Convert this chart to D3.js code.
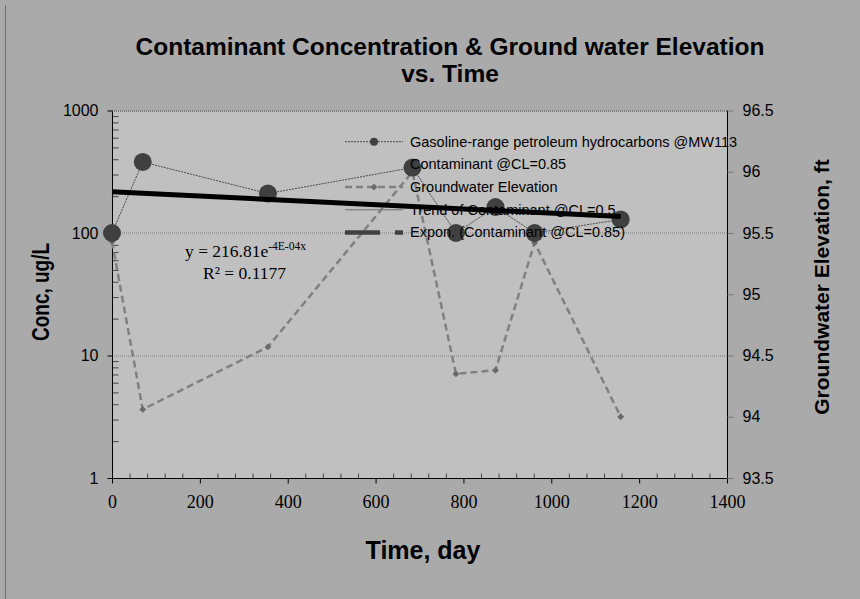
<!DOCTYPE html>
<html>
<head>
<meta charset="utf-8">
<script src="https://cdn.jsdelivr.net/npm/d3@7"></script>
<style>
  body { margin: 0; background: #aaaaaa; }
  text { font-family: "Liberation Sans", Arial, sans-serif; }
  .serif { font-family: "Liberation Serif", "Times New Roman", serif; }
</style>
</head>
<body>
<script>
// chart values
const days = [0, 70, 355, 684, 783, 873, 962, 1158];
const conc = [100, 380, 210, 342, 100, 163, 100, 129];
const elevation = [95.43, 94.06, 94.57, 96.0, 94.35, 94.38, 95.42, 94.0];
const trendDays = [0, 1158];
const trendConc = [216.81, 136.3];

const xTicks = [0, 200, 400, 600, 800, 1000, 1200, 1400];
const yTicks = [1, 10, 100, 1000];
const y2Ticks = [93.5, 94, 94.5, 95, 95.5, 96, 96.5];

const legendLabels = [
  "Gasoline-range petroleum hydrocarbons @MW113",
  "Contaminant @CL=0.85",
  "Groundwater Elevation",
  "Trend of Contaminant @CL=0.5",
  "Expon. (Contaminant @CL=0.85)"
];

const W = 860, H = 599;
const margin = { left: 112, top: 110.5, right: 133, bottom: 121 };
const width = W - margin.left - margin.right;
const height = H - margin.top - margin.bottom;

const root = d3.select("body")
  .append("svg")
  .attr("width", W)
  .attr("height", H);

root.append("rect")
  .attr("width", W).attr("height", H)
  .attr("fill", "#aaaaaa");

// thin frame line on the left side
root.append("line")
  .attr("x1", 5.5).attr("x2", 5.5)
  .attr("y1", 5).attr("y2", H)
  .attr("stroke", "#6f6f6f")
  .attr("stroke-width", 1);

const svg = root.append("g")
  .attr("transform", `translate(${margin.left}, ${margin.top})`);

let xScale = d3.scaleLinear([0, 1400], [0, width]);
let yScale = d3.scaleLog([1, 1000], [height, 0]);
let y2Scale = d3.scaleLinear([93.5, 96.5], [height, 0]);

// plot area
svg.append("rect")
  .attr("width", width)
  .attr("height", height)
  .attr("fill", "#c0c0c0");

// dotted grid lines at each decade
svg.selectAll(".grid")
  .data(yTicks.slice(1))
  .enter()
  .append("line")
  .attr("class", "grid")
  .attr("x1", 0).attr("x2", width)
  .attr("y1", d => Math.round(yScale(d)) + 0.5)
  .attr("y2", d => Math.round(yScale(d)) + 0.5)
  .attr("stroke", "#7a7a7a")
  .attr("stroke-width", 1)
  .style("stroke-dasharray", "1, 1");

// left axis: majors outside, minors inside
let minorY = [];
for (let k = 1; k < 1000; k *= 10) {
  for (let m = 2; m <= 9; m++) minorY.push(k * m);
}
svg.append("g")
  .attr("transform", "translate(0.5,0)")
  .call(d3.axisLeft(yScale).tickValues(minorY).tickSize(-6).tickFormat(""))
  .call(g => g.select(".domain").remove())
  .selectAll("line").attr("stroke", "#444");

svg.append("g")
  .attr("transform", "translate(0.5,0)")
  .call(d3.axisLeft(yScale).tickValues(yTicks).tickSize(5).tickPadding(9).tickFormat(d3.format("d")))
  .call(g => g.select(".domain").attr("stroke", "#000").attr("d", `M0,${height}V0`))
  .call(g => g.selectAll("text").style("font-size", "16px").attr("fill", "#000")
    .style("font-family", "Liberation Sans, Arial, sans-serif"));

// bottom axis
let minorX = d3.range(0, 1401, 40).filter(d => d % 200 !== 0);
svg.append("g")
  .attr("transform", `translate(0,${height + 0.5})`)
  .call(d3.axisBottom(xScale).tickValues(minorX).tickSize(-5).tickFormat(""))
  .call(g => g.select(".domain").remove())
  .selectAll("line").attr("stroke", "#444");

svg.append("g")
  .attr("transform", `translate(0,${height + 0.5})`)
  .call(d3.axisBottom(xScale).tickValues(xTicks).tickSize(5).tickPadding(12).tickFormat(d3.format("d")))
  .call(g => g.select(".domain").attr("stroke", "#000").attr("d", `M0,0H${width}`))
  .call(g => g.selectAll("text").attr("class", "serif").style("font-size", "18px").attr("fill", "#000")
    .style("font-family", "Liberation Serif, Times New Roman, serif"));

// right axis
svg.append("g")
  .attr("transform", `translate(${width + 0.5},0)`)
  .call(d3.axisRight(y2Scale).tickValues(y2Ticks).tickSize(6).tickPadding(9).tickFormat(d => d))
  .call(g => g.select(".domain").attr("stroke", "#000").attr("d", `M0,0V${height}`))
  .call(g => g.selectAll(".tick line").attr("stroke", "#777"))
  .call(g => g.selectAll("text").style("font-size", "16px").attr("fill", "#000")
    .style("font-family", "Liberation Sans, Arial, sans-serif"));

// dotted top border
svg.append("line")
  .attr("x1", 0).attr("x2", width)
  .attr("y1", 0.5).attr("y2", 0.5)
  .attr("stroke", "#555")
  .style("stroke-dasharray", "1, 1");

// groundwater elevation (right axis)
let elevLine = d3.line()
  .x((d, i) => xScale(days[i]))
  .y(d => y2Scale(d));

svg.append("path")
  .datum(elevation)
  .attr("fill", "none")
  .attr("stroke", "#808080")
  .attr("stroke-width", 2.5)
  .style("stroke-dasharray", "7, 4")
  .attr("d", elevLine);

svg.selectAll(".diamond")
  .data(elevation)
  .enter()
  .append("path")
  .attr("class", "diamond")
  .attr("transform", (d, i) => `translate(${xScale(days[i])},${y2Scale(d)})`)
  .attr("d", d3.symbol(d3.symbolDiamond2, 30))
  .attr("fill", "#6a6a6a");

// contaminant concentration
let concLine = d3.line()
  .x((d, i) => xScale(days[i]))
  .y(d => yScale(d));

svg.append("path")
  .datum(conc)
  .attr("fill", "none")
  .attr("stroke", "#3c3c3c")
  .attr("stroke-width", 0.9)
  .style("stroke-dasharray", "2, 1")
  .attr("d", concLine);

svg.selectAll(".dot")
  .data(conc)
  .enter()
  .append("circle")
  .attr("class", "dot")
  .attr("cx", (d, i) => xScale(days[i]))
  .attr("cy", d => yScale(d))
  .attr("r", 9)
  .attr("fill", "#404040");

// exponential trend line
let trendLine = d3.line()
  .x((d, i) => xScale(trendDays[i]))
  .y(d => yScale(d));

svg.append("path")
  .datum(trendConc)
  .attr("fill", "none")
  .attr("stroke", "#000")
  .attr("stroke-width", 5)
  .attr("d", trendLine);

// trend equation
const eq = svg.append("text")
  .attr("class", "serif")
  .style("font-family", "Liberation Serif, Times New Roman, serif")
  .style("font-size", "17.5px")
  .attr("x", 185 - margin.left)
  .attr("y", 257 - margin.top);
eq.append("tspan").text("y = 216.81e");
eq.append("tspan").attr("dy", -7).style("font-size", "11.5px").text("-4E-04x");

svg.append("text")
  .style("font-family", "Liberation Serif, Times New Roman, serif")
  .style("font-size", "17.5px")
  .attr("x", 203 - margin.left)
  .attr("y", 279 - margin.top)
  .text("R² = 0.1177");

// legend
const lg = svg.append("g")
  .attr("transform", `translate(${345 - margin.left},${141.7 - margin.top})`);
const rowGap = 22.7;

lg.append("line")
  .attr("x1", 0).attr("x2", 58).attr("y1", 0).attr("y2", 0)
  .attr("stroke", "#3c3c3c").attr("stroke-width", 0.9)
  .style("stroke-dasharray", "2, 1");
lg.append("circle").attr("cx", 29).attr("cy", 0).attr("r", 4).attr("fill", "#404040");

lg.append("line")
  .attr("x1", 0).attr("x2", 58).attr("y1", rowGap * 2).attr("y2", rowGap * 2)
  .attr("stroke", "#808080").attr("stroke-width", 2.5)
  .style("stroke-dasharray", "7, 4");
lg.append("path")
  .attr("transform", `translate(29,${rowGap * 2})`)
  .attr("d", d3.symbol(d3.symbolDiamond2, 30))
  .attr("fill", "#6a6a6a");

lg.append("line")
  .attr("x1", 0).attr("x2", 58).attr("y1", rowGap * 3).attr("y2", rowGap * 3)
  .attr("stroke", "#707070").attr("stroke-width", 1);

lg.append("line")
  .attr("x1", 0).attr("x2", 58).attr("y1", rowGap * 4).attr("y2", rowGap * 4)
  .attr("stroke", "#404040").attr("stroke-width", 4.5)
  .style("stroke-dasharray", "35, 15");

lg.selectAll(".lgtext")
  .data(legendLabels)
  .enter()
  .append("text")
  .attr("class", "lgtext")
  .attr("x", 65)
  .attr("y", (d, i) => i * rowGap + 5)
  .style("font-size", "14.5px")
  .attr("fill", "#000")
  .text(d => d);

// titles
root.append("text")
  .attr("x", 450).attr("y", 55)
  .attr("text-anchor", "middle")
  .style("font-size", "24.5px").style("font-weight", "bold")
  .text("Contaminant Concentration & Ground water Elevation");
root.append("text")
  .attr("x", 450).attr("y", 82)
  .attr("text-anchor", "middle")
  .style("font-size", "24.5px").style("font-weight", "bold")
  .text("vs. Time");

root.append("text")
  .attr("x", 423).attr("y", 559)
  .attr("text-anchor", "middle")
  .style("font-size", "25px").style("font-weight", "bold")
  .text("Time, day");

root.append("text")
  .attr("transform", "translate(49,292) rotate(-90)")
  .attr("text-anchor", "middle")
  .attr("textLength", 98)
  .attr("lengthAdjust", "spacingAndGlyphs")
  .style("font-size", "24px").style("font-weight", "bold")
  .text("Conc, ug/L");

root.append("text")
  .attr("transform", "translate(829,287) rotate(-90)")
  .attr("text-anchor", "middle")
  .style("font-size", "21px").style("font-weight", "bold")
  .text("Groundwater Elevation, ft");
</script>
</body>
</html>
